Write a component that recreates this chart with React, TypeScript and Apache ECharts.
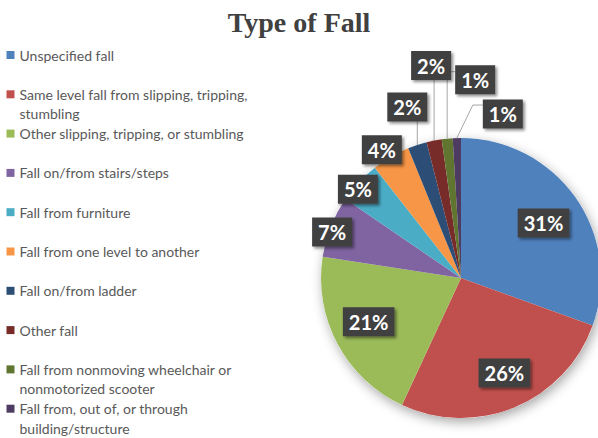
import React, { useEffect, useRef } from "react";
import * as echarts from "echarts";

const categories = [
  "Unspecified fall",
  "Same level fall from slipping, tripping, stumbling",
  "Other slipping, tripping, or stumbling",
  "Fall on/from stairs/steps",
  "Fall from furniture",
  "Fall from one level to another",
  "Fall on/from ladder",
  "Other fall",
  "Fall from nonmoving wheelchair or nonmotorized scooter",
  "Fall from, out of, or through building/structure",
];
const values = [30.5, 26.4, 20.5, 7.1, 4.9, 4.4, 2.2, 1.75, 1.25, 0.95];
const colors = [
  "#4F81BD", "#C0504D", "#9BBB59", "#8064A2", "#4BACC6",
  "#F79646", "#2C4D75", "#772C2A", "#5F7530", "#4D3B62",
];
const legendLabels: Record<string, string> = {
  "Same level fall from slipping, tripping, stumbling": "Same level fall from slipping, tripping,\nstumbling",
  "Fall from nonmoving wheelchair or nonmotorized scooter": "Fall from nonmoving wheelchair or\nnonmotorized scooter",
  "Fall from, out of, or through building/structure": "Fall from, out of, or through\nbuilding/structure",
};

// layout / style constants
const CX = 461, CY = 278, R = 140;
const LH = 19.5;
type Place = { f: number; dx?: number; dy?: number; line?: "v" | "elbow" | "diag" };
const placements: Place[] = [
  { f: 0.72, dy: 3 },
  { f: 0.75, dx: 3, dy: -2 },
  { f: 0.74, dx: -1, dy: -5 },
  { f: 0.99, dy: 5 },
  { f: 1.0, dx: -1, dy: 7 },
  { f: 1.0, dx: -9, dy: -7 },
  { f: 1, dx: -10, dy: -38, line: "v" },
  { f: 1, dx: -3, dy: -75, line: "v" },
  { f: 1, dx: 28, dy: -59, line: "elbow" },
  { f: 1, dx: 46, dy: -24, line: "diag" },
];

export default function App() {
  const ref = useRef<HTMLDivElement>(null);
  useEffect(() => {
    const chart = echarts.init(ref.current!, null, { renderer: "svg" });
    const total = values.reduce((a, b) => a + b, 0);
    const mids: number[] = [];
    let acc = 0;
    values.forEach((v) => {
      mids.push((acc + v / 2) / total);
      acc += v;
    });
    chart.setOption({
      animation: false,
      backgroundColor: "#ffffff",
      title: {
        text: "Type of Fall",
        left: "center",
        top: 3,
        textStyle: {
          fontFamily: "Liberation Serif",
          fontWeight: "bold",
          fontSize: 28,
          color: "#404040",
        },
      },
      legend: {
        orient: "vertical",
        left: 6.5,
        top: 25.75,
        height: 430,
        padding: 0,
        itemWidth: 8,
        itemHeight: 8,
        itemGap: -19.2,
        icon: "rect",
        data: categories.map((name) => ({
          name,
          textStyle: {
            padding: legendLabels[name] ? [0, 0, 0, 0] : [LH, 0, LH, 0],
          },
        })),
        formatter: (n: string) => (legendLabels[n] ? "\n" + legendLabels[n] : n),
        textStyle: {
          fontFamily: "Lato",
          fontSize: 14,
          color: "#595959",
          lineHeight: LH,
        },
      },
      series: [
        {
          type: "pie",
          z: 1,
          center: [CX, CY],
          radius: R,
          silent: true,
          label: { show: false },
          labelLine: { show: false },
          data: [
            {
              value: 1,
              name: "pie shadow",
              itemStyle: {
                color: "#ffffff",
                shadowBlur: 12,
                shadowOffsetX: 2,
                shadowOffsetY: 4,
                shadowColor: "rgba(0,0,0,0.35)",
              },
            },
          ],
        },
        {
          type: "pie",
          z: 2,
          center: [CX, CY],
          radius: R,
          startAngle: 90,
          clockwise: true,
          avoidLabelOverlap: false,
          silent: true,
          itemStyle: { borderWidth: 0 },
          label: {
            show: true,
            position: "outside",
            formatter: (p: any) => Math.round(p.percent) + "%",
            color: "#ffffff",
            fontFamily: "Lato",
            fontWeight: "bold",
            fontSize: 20,
            backgroundColor: "#404040",
            padding: [5, 6, 4, 6],
            shadowColor: "rgba(0,0,0,0.45)",
            shadowBlur: 3,
            shadowOffsetX: 2,
            shadowOffsetY: 2,
          },
          labelLine: { show: false, lineStyle: { color: "#A6A6A6", width: 1 } },
          labelLayout: (params: any) => {
            const i = params.dataIndex;
            const pl = placements[i];
            const th = mids[i] * Math.PI * 2;
            const sx = Math.sin(th), sy = -Math.cos(th);
            const lx = CX + R * pl.f * sx + (pl.dx || 0);
            const ly = CY + R * pl.f * sy + (pl.dy || 0);
            const out: any = { x: lx, y: ly, align: "center", verticalAlign: "middle" };
            if (pl.line) {
              const ex = CX + R * sx, ey = CY + R * sy;
              const w = params.labelRect.width, h = params.labelRect.height;
              if (pl.line === "v") out.labelLinePoints = [[ex, ey], [ex, ly + h / 2]];
              else if (pl.line === "elbow") out.labelLinePoints = [[ex, ey], [ex, ly - 8], [lx - w / 2, ly - 8]];
              else out.labelLinePoints = [[ex, ey], [ex + 16, ly - 9], [lx - w / 2, ly - 9]];
            }
            return out;
          },
          data: categories.map((name, i) => ({
            name,
            value: values[i],
            itemStyle: { color: colors[i] },
            labelLine: { show: !!placements[i].line },
          })),
        },
      ],
    });
    return () => chart.dispose();
  }, []);
  return <div ref={ref} style={{ width: 598, height: 438, position: "absolute", left: 0, top: 0 }} />;
}
